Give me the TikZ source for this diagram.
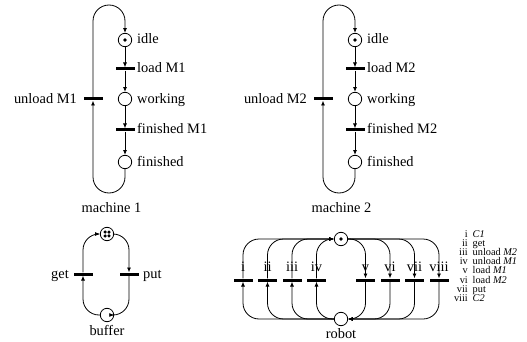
\documentclass[tikz,border=0pt]{standalone}
\usepackage{fontspec}
\setmainfont{Liberation Serif}
\usetikzlibrary{arrows.meta}
\begin{document}
\begin{tikzpicture}[x=1pt,y=-1pt,
  every node/.style={inner sep=0pt},
  place/.style={circle,draw,line width=0.8pt,minimum size=13.4pt,inner sep=0pt},
  trans/.style={fill=black,minimum width=19pt,minimum height=3pt,inner sep=0pt},
  lab/.style={font=\fontsize{14.4}{16}\selectfont,text height=10pt,text depth=2pt,inner sep=0pt},
  leg/.style={font=\fontsize{10.3}{11}\selectfont,inner sep=0pt},
  arc/.style={line width=0.8pt,-{Latex[length=4.8pt,width=4pt]}},
  loop/.style={arc,rounded corners=16pt},
  tok/.style={circle,fill=black,minimum size=3.6pt,inner sep=0pt},
  btok/.style={circle,fill=black,minimum size=3.5pt,inner sep=0pt}
]
\useasboundingbox (0,0) rectangle (527,342);

% ---------------- machines ----------------
\foreach \m/\dx in {1/0,2/230} {
\begin{scope}[xshift=\dx pt]
  \node[place] (m\m idle) at (125,40) {};
  \node[tok] (m\m tok) at (m\m idle.center) {};
  \node[trans] (m\m load) at (125,69) {};
  \node[place] (m\m work) at (125,99) {};
  \node[trans] (m\m fint) at (125,130) {};
  \node[place] (m\m fin) at (125,162) {};
  \node[trans] (m\m unl) at (93,99) {};
  \coordinate (m\m bot) at (109,193);
  \coordinate (m\m top) at (109,5);

  \node[lab,anchor=west] (m\m lidle) at (137,40) {idle};
  \node[lab,anchor=west] (m\m lload) at (137,69) {load M\m};
  \node[lab,anchor=west] (m\m lwork) at (137,99) {working};
  \node[lab,anchor=west] (m\m lfint) at (137,130) {finished M\m};
  \node[lab,anchor=west] (m\m lfin) at (137,162) {finished};
  \node[lab,anchor=east] (m\m lunl) at (77,99) {unload M\m};
  \node[lab] (m\m name) at (111.5,208) {machine \m};

  \draw[arc] (m\m idle) -- (m\m load);
  \draw[arc] (m\m load) -- (m\m work);
  \draw[arc] (m\m work) -- (m\m fint);
  \draw[arc] (m\m fint) -- (m\m fin);
  \draw[loop] (m\m fin.south) -- (m\m fin.south |- m\m bot) -- (m\m unl.south |- m\m bot) -- (m\m unl.south);
  \draw[loop] (m\m unl.north) -- (m\m unl.north |- m\m top) -- (m\m idle.north |- m\m top) -- (m\m idle.north);
\end{scope}
}

% ---------------- buffer ----------------
\node[place] (bufP) at (107,234) {};
\node[btok] (bt1) at ([shift={(-1.9,-1.9)}]bufP.center) {};
\node[btok] (bt2) at ([shift={(1.9,-1.9)}]bufP.center) {};
\node[btok] (bt3) at ([shift={(-1.9,1.9)}]bufP.center) {};
\node[btok] (bt4) at ([shift={(1.9,1.9)}]bufP.center) {};
\node[trans] (get) at (83,274) {};
\node[trans] (put) at (129,274) {};
\node[place] (buf) at (107,315) {};
\node[lab,anchor=east] (lget) at (69,274) {get};
\node[lab,anchor=west] (lput) at (143,274) {put};
\node[lab] (lbuf) at (107,331) {buffer};
\draw[loop] (get.north) -- (get.north |- bufP.west) -- (bufP.west);
\draw[loop] (bufP.east) -- (put.north |- bufP.east) -- (put.north);
\draw[loop] (put.south) -- (put.south |- buf.east) -- (buf.east);
\draw[loop] (buf.west) -- (get.south |- buf.west) -- (get.south);

% ---------------- robot ----------------
\node[place] (T) at (341,239) {};
\node[tok] (Ttok) at (T.center) {};
\node[place] (R) at (341,319) {};
\node[lab] (lrob) at (341,334) {robot};

\foreach \n/\x [count=\k] in {i/243,ii/267.5,iii/292,iv/316.5} {
  \node[trans] (r\k) at (\x,280) {};
  \node[lab] (rl\k) at (\x,267) {\n};
  \draw[loop] (R.west) -- (r\k.south |- R.west) -- (r\k.south);
  \draw[loop] (r\k.north) -- (r\k.north |- T.west) -- (T.west);
}
\foreach \n/\x [count=\j] in {v/365.5,vi/390,vii/414.5,viii/439} {
  \pgfmathtruncatemacro{\k}{\j+4}
  \node[trans] (r\k) at (\x,280) {};
  \node[lab] (rl\k) at (\x,267) {\n};
  \draw[loop] (T.east) -- (r\k.north |- T.east) -- (r\k.north);
  \draw[loop] (r\k.south) -- (r\k.south |- R.east) -- (R.east);
}

% ---------------- legend ----------------
\foreach \n/\t [count=\k] in {i/{\textit{C1}},ii/{get},iii/{unload \textit{M2}},iv/{unload \textit{M1}},v/{load \textit{M1}},vi/{load \textit{M2}},vii/{put},viii/{\textit{C2}}} {
  \node[leg,anchor=base east] (ln\k) at (468,{237.5+9.1*(\k-1)}) {\n};
  \node[leg,anchor=base west] (lt\k) at (472.5,{237.5+9.1*(\k-1)}) {\t};
}
\end{tikzpicture}
\end{document}
